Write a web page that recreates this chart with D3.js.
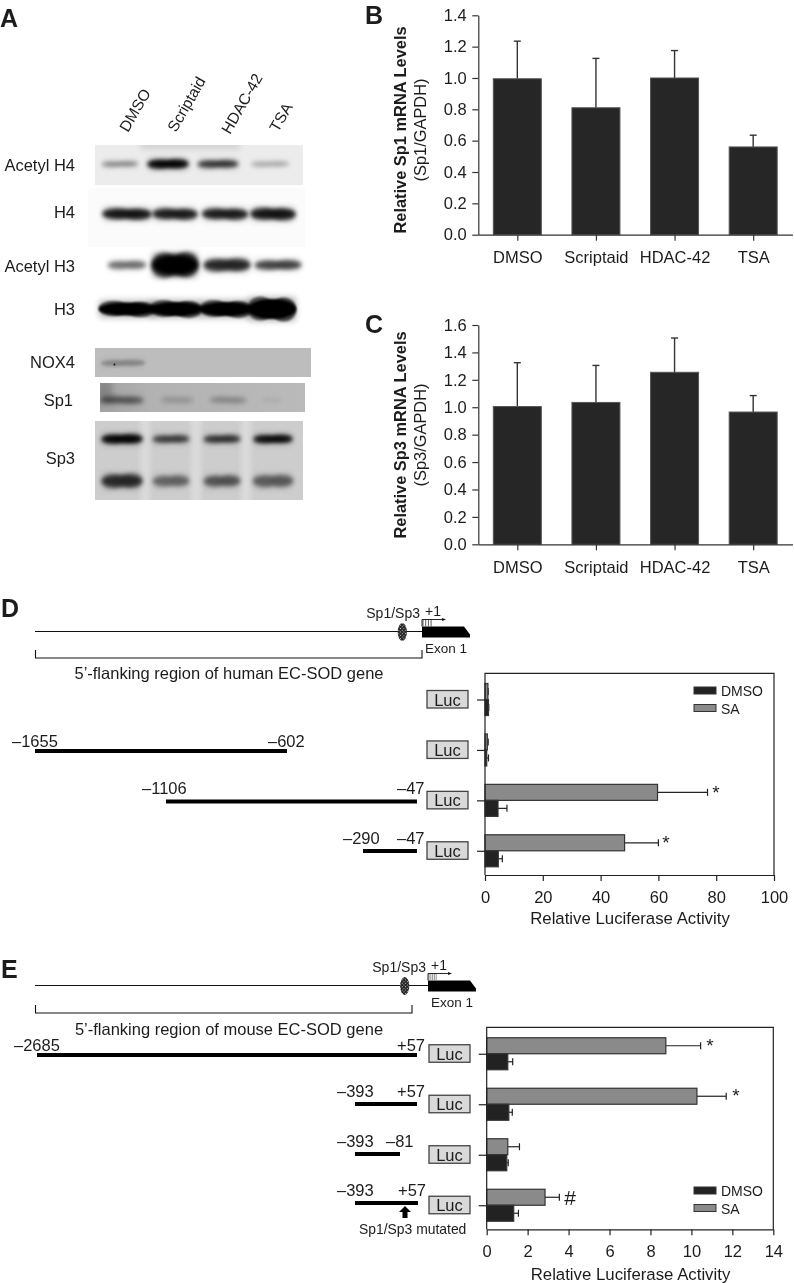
<!DOCTYPE html>
<html><head><meta charset="utf-8">
<script src="https://cdn.jsdelivr.net/npm/d3@7"></script>
<style>html,body{margin:0;padding:0;background:#fff}svg{display:block;filter:blur(0.3px)}
text{font-family:"Liberation Sans",Arial,sans-serif;fill:#1c1c1c}</style></head>
<body><div id="c"></div>
<script>
// ---------- data ----------
const treatments = ["DMSO","Scriptaid","HDAC-42","TSA"];
const sp1Mean = [0.995,0.81,1.0,0.56];
const sp1Upper = [1.235,1.125,1.175,0.635];
const sp3Mean = [1.005,1.035,1.255,0.965];
const sp3Upper = [1.325,1.305,1.505,1.085];
const sp1Ticks = [0,0.2,0.4,0.6,0.8,1.0,1.2,1.4];
const sp3Ticks = [0,0.2,0.4,0.6,0.8,1.0,1.2,1.4,1.6];

const humanRows = ["-1655/-602 a","-1655/-602","-1106/-47","-290/-47"];
const humanSA = [1.0,0.8,59.7,48.3];
const humanSAUpper = [1.1,1.1,77,60];
const humanDMSO = [1.2,0.6,4.5,4.6];
const humanDMSOUpper = [1.3,1.2,7.6,6];
const humanTicks = [0,20,40,60,80,100];

const mouseRows = ["-2685/+57","-393/+57","-393/-81","-393/+57 mut"];
const mouseSA = [8.75,10.27,1.03,2.85];
const mouseSAUpper = [10.45,11.7,1.6,3.55];
const mouseDMSO = [1.03,1.08,0.98,1.32];
const mouseDMSOUpper = [1.27,1.25,1.05,1.55];
const mouseTicks = [0,2,4,6,8,10,12,14];

// relative band intensity in each blot, lane by lane
const acetylH4Bands = [0.3,1,0.62,0.18];
const h4Bands = [0.8,0.75,0.75,0.8];
const acetylH3Bands = [0.38,1,0.68,0.55];
const h3Bands = [1,1,1,1];
const nox4Bands = [0.16,0,0,0];
const sp1Bands = [0.34,0.1,0.16,0.04];
const sp3UpperBands = [1,0.55,0.62,0.95];
const sp3LowerBands = [0.62,0.33,0.4,0.36];

// ---------- layout ----------
const W=794,H=1283;
const svg=d3.select("#c").append("svg").attr("width",W).attr("height",H).attr("viewBox",[0,0,W,H]);
const defs=svg.append("defs");
[["blur2",2],["blur3",3],["blur1",1],["blur15",1.5],["blur6",6]].forEach(([id,s])=>
  defs.append("filter").attr("id",id).attr("x","-40%").attr("y","-150%").attr("width","180%").attr("height","400%")
    .append("feGaussianBlur").attr("stdDeviation",s));
const hatch=defs.append("pattern").attr("id","hatch").attr("width",2.4).attr("height",2.4)
  .attr("patternUnits","userSpaceOnUse").attr("patternTransform","rotate(45)");
hatch.append("rect").attr("width",2.4).attr("height",2.4).attr("fill","#222");
hatch.append("rect").attr("width",1).attr("height",1).attr("fill","#ccc");
const sg=defs.append("linearGradient").attr("id","sp1bg");
sg.append("stop").attr("offset","0").attr("stop-color","#a2a2a2");
sg.append("stop").attr("offset","0.25").attr("stop-color","#b2b2b2");
sg.append("stop").attr("offset","1").attr("stop-color","#bababa");

const txt=(x,y,s,size=16.5,o={})=>{
  const t=svg.append("text").attr("x",x).attr("y",y).attr("font-size",size).attr("text-anchor",o.anchor||"start").text(s);
  if(o.bold)t.attr("font-weight","bold");
  if(o.rot!=null)t.attr("transform",`rotate(${o.rot},${x},${y})`);
  return t;
};

// panel letters
[["A",0,27],["B",365,24],["C",365,333],["D",1,617],["E",1,978]].forEach(([s,x,y])=>txt(x,y,s,25,{bold:true}));

// ---------- blots (A) ----------
const blots=[
 {label:"Acetyl H4",lx:75,ly:171,box:[95,145,303,185],bg:"#ececec",blur:"blur2",
  rows:[{y:164,vals:acetylH4Bands,xs:[120,168,218,270],ws:[36,40,40,38],hs:[4,7,6,4]}]},
 {label:"H4",lx:75,ly:218,box:[88,188,305,247],bg:"#fbfbfb",blur:"blur2",
  rows:[{y:214,vals:h4Bands,xs:[127,175,225,273],ws:[48,44,45,44],hs:[9,9,9,10]}]},
 {label:"Acetyl H3",lx:75,ly:272,box:null,blur:"blur2",
  rows:[{y:265,vals:acetylH3Bands,xs:[127,175,227,278],ws:[38,46,46,46],hs:[7,21,11,8]}]},
 {label:"H3",lx:75,ly:315,box:null,blur:"blur1",
  rows:[{y:309,vals:h3Bands,xs:[127,176,226,272],ws:[56,52,52,48],hs:[13,14,14,20]}]},
 {label:"NOX4",lx:75,ly:368,box:[95,348,311,377],bg:"#bdbdbd",blur:"blur15",
  rows:[{y:363,vals:nox4Bands,xs:[123,175,225,275],ws:[44,30,30,30],hs:[6,5,5,5]}]},
 {label:"Sp1",lx:73,ly:406,box:[100,383,305,412],bg:"url(#sp1bg)",blur:"blur2",
  rows:[{y:400,vals:sp1Bands,xs:[122,177,228,272],ws:[42,32,36,20],hs:[6,5,5,3]}]},
 {label:"Sp3",lx:75,ly:464,box:[95,421,303,500],bg:"#cdcdcd",blur:"blur2",gaps:[145,196,246],
  rows:[{y:439,vals:sp3UpperBands,xs:[122,171,222,273],ws:[40,36,36,38],hs:[7,6,6,6]},
        {y:481,vals:sp3LowerBands,xs:[122,171,222,273],ws:[40,36,36,40],hs:[12,10,10,11]}]}
];
const panelClip=(id,b)=>defs.append("clipPath").attr("id",id).append("rect")
  .attr("x",b[0]).attr("y",b[1]).attr("width",b[2]-b[0]).attr("height",b[3]-b[1]);
blots.forEach((b,k)=>{
  const g=svg.append("g");
  if(b.box){
    panelClip("pc"+k,b.box); g.attr("clip-path",`url(#pc${k})`);
    g.append("rect").attr("x",b.box[0]).attr("y",b.box[1]).attr("width",b.box[2]-b.box[0]).attr("height",b.box[3]-b.box[1]).attr("fill",b.bg);
  }
  if(b.gaps) g.selectAll("rect.gap").data(b.gaps).join("rect").attr("class","gap")
     .attr("x",d=>d-4).attr("width",8).attr("y",b.box[1]-10).attr("height",b.box[3]-b.box[1]+20)
     .attr("fill","#fff").attr("opacity",0.35).attr("filter","url(#blur3)");
  if(k===0) g.append("rect").attr("x",140).attr("y",142).attr("width",100).attr("height",7).attr("fill","#000").attr("opacity",.12).attr("filter","url(#blur3)");
  if(k===4) g.append("circle").attr("cx",114.5).attr("cy",364.5).attr("r",.9).attr("fill","#111");
  if(k===5) g.append("rect").attr("x",98).attr("y",380).attr("width",14).attr("height",24).attr("fill","#000").attr("opacity",.18).attr("filter","url(#blur3)");
  b.rows.forEach(r=>{
    // soft halo round each band
    g.selectAll(null).data(r.vals).join("rect")
      .attr("x",(d,i)=>r.xs[i]-r.ws[i]/2).attr("width",(d,i)=>r.ws[i])
      .attr("y",(d,i)=>r.y-r.hs[i]/2-2).attr("height",(d,i)=>r.hs[i]+4)
      .attr("rx",4).attr("fill","#000").attr("opacity",d=>d*0.3).attr("filter","url(#blur3)");
    // core: left and right lobes so the band is not a plain bar
    [[-1,0.6],[1,0.66],[0,1]].forEach(([side,f])=>{
      g.selectAll(null).data(r.vals).join("ellipse")
        .attr("cx",(d,i)=>r.xs[i]+side*r.ws[i]*0.24)
        .attr("cy",(d,i)=>r.y+side*(k%2?0.5:-0.4))
        .attr("rx",(d,i)=>side===0?r.ws[i]/2:r.ws[i]*0.27)
        .attr("ry",(d,i)=>side===0?r.hs[i]/2:r.hs[i]*0.6)
        .attr("fill","#000").attr("opacity",d=>d*f).attr("filter",`url(#${b.blur})`);
    });
  });
  txt(b.lx,b.ly,b.label,16.5,{anchor:"end"});
});
// lane headers
[[128,133],[176,133],[230,135],[278,133]].forEach((p,i)=>txt(p[0],p[1],treatments[i],15.5,{rot:-60}));

// ---------- B, C: column charts ----------
function columns(mean,upper,ticks,maxV,top,base,titleBold,titleReg,cy){
  const x=d3.scalePoint().domain(treatments).range([478,792.5]).padding(0.5);
  const y=d3.scaleLinear().domain([0,maxV]).range([base,top]);
  const g=svg.append("g");
  g.selectAll("line.err").data(treatments).join("line").attr("class","err")
    .attr("x1",d=>x(d)).attr("x2",d=>x(d)).attr("y1",(d,i)=>y(mean[i])).attr("y2",(d,i)=>y(upper[i]))
    .attr("stroke","#333").attr("stroke-width",1.4);
  g.selectAll("line.cap").data(treatments).join("line").attr("class","cap")
    .attr("x1",d=>x(d)-3.5).attr("x2",d=>x(d)+3.5).attr("y1",(d,i)=>y(upper[i])).attr("y2",(d,i)=>y(upper[i]))
    .attr("stroke","#333").attr("stroke-width",1.4);
  g.selectAll("rect").data(treatments).join("rect")
    .attr("x",d=>x(d)-24).attr("width",48).attr("y",(d,i)=>y(mean[i])).attr("height",(d,i)=>base-y(mean[i]))
    .attr("fill","#262626").attr("stroke","#555").attr("stroke-width",1);
  const ax=svg.append("g").attr("transform",`translate(0,${base})`)
    .call(d3.axisBottom(x).tickSize(6).tickPadding(10.5).tickSizeOuter(0));
  const ay=svg.append("g").attr("transform","translate(478.3,0)")
    .call(d3.axisLeft(y).tickValues(ticks).tickFormat(d3.format(".1f")).tickSize(6).tickPadding(5.6).tickSizeOuter(0));
  [ax,ay].forEach(a=>{a.selectAll("text").attr("font-size",16.5);
    a.selectAll("line,path").attr("stroke","#333").attr("stroke-width",1.2);a.attr("font-family",null);});
  txt(406,cy,titleBold,16.4,{anchor:"middle",bold:true,rot:-90});
  txt(426,cy,titleReg,16.4,{anchor:"middle",rot:-90});
}
columns(sp1Mean,sp1Upper,sp1Ticks,1.4,15.3,234.7,"Relative Sp1 mRNA Levels","(Sp1/GAPDH)",130);
columns(sp3Mean,sp3Upper,sp3Ticks,1.6,325,544.3,"Relative Sp3 mRNA Levels","(Sp3/GAPDH)",435);

// ---------- D, E: horizontal bars ----------
function hbars(o){
  const x=d3.scaleLinear().domain([0,o.max]).range([o.l,o.r]);
  const y=d3.scalePoint().domain(o.rows).range([o.t+o.off,o.b+o.off]).padding(0.5);
  const sub=d3.scaleBand().domain(["SA","DMSO"]).range([-16,16]);
  const series=[["SA",o.sa,o.saU,"#8a8a8a"],["DMSO",o.dm,o.dmU,"#222"]];
  const g=svg.append("g");
  series.forEach(([name,v,u,c])=>{
    const cy=d=>y(d)+sub(name)+8;
    g.selectAll(null).data(o.rows).join("line").attr("x1",(d,i)=>x(v[i])).attr("x2",(d,i)=>x(u[i]))
      .attr("y1",cy).attr("y2",cy).attr("stroke","#222").attr("stroke-width",1.2);
    g.selectAll(null).data(o.rows).join("line").attr("x1",(d,i)=>x(u[i])).attr("x2",(d,i)=>x(u[i]))
      .attr("y1",d=>cy(d)-3.5).attr("y2",d=>cy(d)+3.5).attr("stroke","#222").attr("stroke-width",1.2);
    g.selectAll(null).data(o.rows).join("rect").attr("x",o.l).attr("width",(d,i)=>x(v[i])-o.l)
      .attr("y",d=>y(d)+sub(name)).attr("height",16).attr("fill",c).attr("stroke","#333").attr("stroke-width",1.2);
  });
  g.append("path").attr("d",`M${o.l},${o.b}V${o.t}H${o.r}V${o.b}`).attr("fill","none").attr("stroke","#222").attr("stroke-width",1.2);
  const ax=svg.append("g").attr("transform",`translate(0,${o.b})`)
    .call(d3.axisBottom(x).tickValues(o.ticks).tickSize(6).tickPadding(10).tickSizeOuter(0));
  const ay=svg.append("g").attr("transform",`translate(${o.l},0)`)
    .call(d3.axisLeft(y).tickSize(8).tickFormat("").tickSizeOuter(0));
  ay.select("path").remove();
  [ax,ay].forEach(a=>{a.selectAll("text").attr("font-size",16.5);a.attr("font-family",null);
    a.selectAll("line,path").attr("stroke","#222").attr("stroke-width",1.2);});
  // Luc boxes
  svg.append("g").selectAll("rect").data(o.rows).join("rect")
    .attr("x",o.lucX).attr("width",41).attr("y",d=>y(d)-9).attr("height",17.5)
    .attr("fill","#d9d9d9").attr("stroke","#444").attr("stroke-width",1.3);
  svg.append("g").selectAll("text").data(o.rows).join("text")
    .attr("x",o.lucX+20.5).attr("y",d=>y(d)+6).attr("text-anchor","middle").attr("font-size",16.5).text("Luc");
  txt((o.l+o.r)/2+.5,o.b+o.titleDy,"Relative Luciferase Activity",16.8,{anchor:"middle"});
  // legend
  [["DMSO",o.legY,"#222"],["SA",o.legY+17.5,"#8a8a8a"]].forEach(([s,yy,c])=>{
    svg.append("rect").attr("x",694).attr("y",yy).attr("width",22).attr("height",7).attr("fill",c).attr("stroke","#333");
    txt(721,yy+9,s,14);
  });
}
hbars({max:100,l:485,r:774,t:673.3,b:875,off:1,ticks:humanTicks,rows:humanRows,sa:humanSA,saU:humanSAUpper,dm:humanDMSO,dmU:humanDMSOUpper,
  lucX:427,legY:687,titleDy:49});
hbars({max:14,l:486.7,r:773.3,t:1027.3,b:1229.3,off:1.2,ticks:mouseTicks,rows:mouseRows,sa:mouseSA,saU:mouseSAUpper,dm:mouseDMSO,dmU:mouseDMSOUpper,
  lucX:429,legY:1187,titleDy:50.5});
txt(716,799,"*",19,{anchor:"middle"});
txt(666,849,"*",19,{anchor:"middle"});
txt(710,1052,"*",19,{anchor:"middle"});
txt(736,1102,"*",19,{anchor:"middle"});
txt(570,1205,"#",21,{anchor:"middle"});

// ---------- gene diagrams ----------
function gene(o){
  const g=svg.append("g").attr("stroke","#111");
  g.append("line").attr("x1",35).attr("x2",o.ex).attr("y1",o.y).attr("y2",o.y).attr("stroke-width",1.2);
  g.append("ellipse").attr("cx",o.cx).attr("cy",o.y+.5).attr("rx",4.6).attr("ry",9).attr("fill","url(#hatch)").attr("stroke","none");
  g.append("path").attr("d",`M${o.ex},${o.y-5}H${o.ex+42}L${o.ex+48},${o.y+3}V${o.y+6}H${o.ex}Z`).attr("fill","#000").attr("stroke","none");
  d3.range(o.stripes).forEach(i=>g.append("line").attr("x1",o.ex+1+i*o.gap).attr("x2",o.ex+1+i*o.gap).attr("y1",o.y-12).attr("y2",o.y-5).attr("stroke-width",.8).attr("stroke",o.sc));
  g.append("path").attr("d",`M${o.ex},${o.y-5}V${o.y-12}H${o.ex+22}`).attr("fill","none").attr("stroke-width",.9);
  g.append("path").attr("d",`M${o.ex+24},${o.y-12}l-4,-1.6v3.2z`).attr("fill","#111").attr("stroke","none");
  g.append("path").attr("d",`M35.5,${o.by}v8H${o.bx}v-8`).attr("fill","none").attr("stroke-width",1.1);
  txt(o.ex-2,o.y-14,"Sp1/Sp3",14,{anchor:"end"});
  txt(o.ex+3,o.y-16,"+1",14);
  txt(o.ex+3,o.y+21,"Exon 1",13.5);
  txt(229,o.ty,o.title,16.5,{anchor:"middle"});
}
gene({y:631.5,ex:422,cx:402.3,stripes:4,gap:2.7,sc:"#333",by:650,bx:422,ty:679,title:"5’-flanking region of human EC-SOD gene"});
gene({y:985.5,ex:428,cx:404.7,stripes:5,gap:1.8,sc:"#777",by:1005,bx:412,ty:1035,title:"5’-flanking region of mouse EC-SOD gene"});

// construct lines and end labels
const constructLabels=[["–1655","–602"],["–1106","–47"],["–290","–47"],["–2685","+57"],["–393","+57"],["–393","–81"],["–393","+57"]];
const constructPos=[[35,287,751,12,268,747],[166,417,801.5,142,397,794],[363,417,851,343,397,844],
  [37,417,1055,14,397,1051],[355,417,1104,337,397,1097],[355,400,1154,337,386,1147],[355,418,1203,337,398,1196]];
constructLabels.forEach((l,i)=>{
  const p=constructPos[i];
  svg.append("line").attr("x1",p[0]).attr("x2",p[1]).attr("y1",p[2]).attr("y2",p[2]).attr("stroke","#000").attr("stroke-width",4);
  txt(p[3],p[5],l[0]); txt(p[4],p[5],l[1]);
});
svg.append("path").attr("d","M405,1206l-6,6h3.5v6h5v-6h3.5z").attr("fill","#000");
txt(359,1234,"Sp1/Sp3 mutated",13.9);
</script></body></html>
